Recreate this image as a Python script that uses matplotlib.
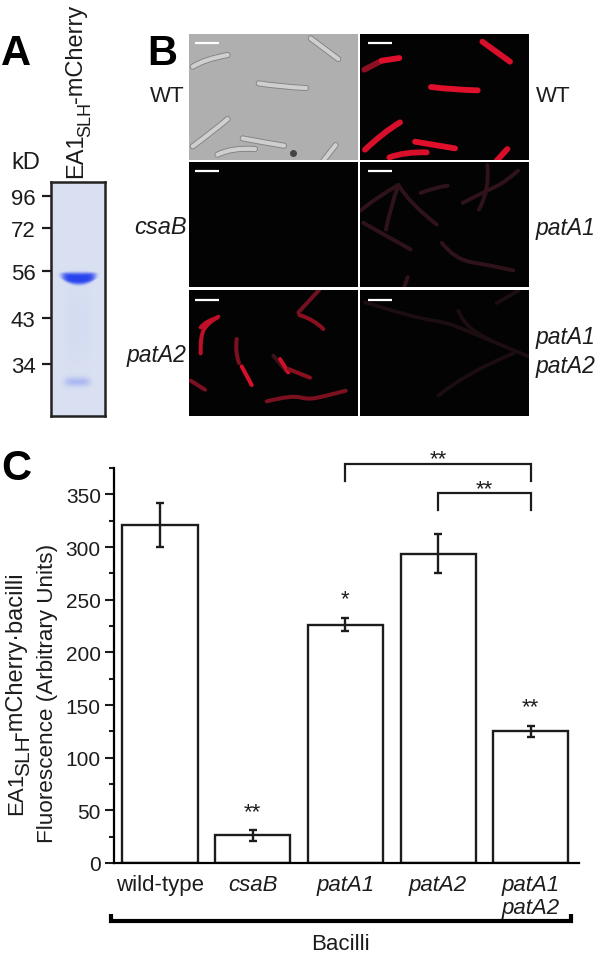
import numpy as np
import matplotlib
matplotlib.use("Agg")
import matplotlib.pyplot as plt
from matplotlib.patches import PathPatch
from matplotlib.path import Path
from matplotlib.ticker import MultipleLocator

plt.rcParams['font.family'] = ['Liberation Sans', 'DejaVu Sans']

W, H = 600, 954
INK = "#1c1c1c"

# panel C
strains = ["wild-type", "csaB", "patA1", "patA2", "patA1\npatA2"]
means = [321, 26.5, 226, 293, 125.5]
err_low = [21, 6, 6, 18, 5.5]
err_high = [21, 4.5, 7, 19, 5]
stars = [None, "**", "*", None, "**"]

# panel A
kd_labels = ["96", "72", "56", "43", "34"]
kd_y = [197, 229, 272, 319, 365]

# panel B, cell outlines
wt_phase = [
    [(38, 143), (75, 120), (143, 108)],
    [(392, 58), (475, 120)],
    [(236, 193), (300, 203), (378, 207)],
    [(38, 382), (95, 340), (143, 300)],
    [(188, 358), (250, 370), (312, 380)],
    [(112, 407), (155, 385), (225, 390)],
    [(430, 425), (467, 378)],
]
wt_red = [
    ("#8c1024", [(553, 152), (605, 125)]),
    ("#e0102c", [(605, 125), (658, 117)]),
    ("#d80f2a", [(907, 68), (990, 128)]),
    ("#e0102c", [(753, 204), (820, 212), (893, 214)]),
    ("#d80f2a", [(555, 392), (610, 340), (660, 310)]),
    ("#e0102c", [(705, 368), (825, 388)]),
    ("#d80f2a", [(628, 415), (675, 398), (740, 400)]),
    ("#d80f2a", [(950, 425), (982, 390)]),
]
pata1_red = [
    [(542, 575), (590, 535), (655, 498)],
    [(655, 498), (630, 570), (618, 632)],
    [(655, 498), (690, 555), (770, 617)],
    [(722, 522), (765, 505), (803, 500)],
    [(848, 552), (920, 515), (975, 490), (1014, 455)],
    [(922, 438), (930, 510), (897, 572)],
    [(550, 612), (620, 652), (692, 692)],
    [(785, 672), (825, 722), (920, 738), (1000, 755)],
    [(672, 808), (683, 775)],
]
pata2_red = [
    ("#c01028", [(62, 1003), (60, 950), (85, 910), (115, 893)]),
    ("#c01028", [(62, 925), (80, 905), (110, 897)]),
    ("#701020", [(355, 880), (385, 848), (418, 812)]),
    ("#8a1020", [(358, 888), (400, 900), (430, 930)]),
    ("#7a1020", [(170, 960), (165, 1000), (177, 1032)]),
    ("#d80f2a", [(185, 1042), (215, 1098)]),
    ("#3a1218", [(280, 1010), (320, 1058)]),
    ("#d0102a", [(300, 1020), (325, 1060)]),
    ("#8a1020", [(325, 1050), (390, 1076)]),
    ("#7a1020", [(32, 1085), (75, 1112)]),
    ("#7a1020", [(260, 1147), (335, 1128), (385, 1142), (440, 1130), (497, 1115)]),
]
double_red = [
    [(555, 850), (700, 895), (800, 910), (860, 935), (1045, 1012)],
    [(835, 875), (855, 930), (935, 965)],
    [(775, 1130), (860, 1060), (1000, 1003)],
    [(950, 852), (1015, 815)],
]


def px_axes(x0, y0, x1, y1):
    return fig.add_axes([x0 / W, 1 - y1 / H, (x1 - x0) / W, (y1 - y0) / H])


def micro_panel(x0, y0, x1, y1, zx0, zy0, zx1, zy1, color="#030303"):
    a = px_axes(x0, y0, x1, y1)
    a.set_facecolor(color)
    a.set_xlim(zx0, zx1)
    a.set_ylim(zy1, zy0)
    a.set_xticks([])
    a.set_yticks([])
    for s in a.spines.values():
        s.set_visible(False)
    return a


def cell(a, pts, color, lw):
    # bend through the read points, a straight cell stays straight
    verts = [pts[0]]
    codes = [Path.MOVETO]
    for i in range(1, len(pts) - 1):
        verts.append(pts[i])
        codes.append(Path.CURVE3)
        if i < len(pts) - 2:
            verts.append(((pts[i][0] + pts[i + 1][0]) / 2, (pts[i][1] + pts[i + 1][1]) / 2))
        else:
            verts.append(pts[-1])
        codes.append(Path.CURVE3)
    if len(pts) == 2:
        verts.append(pts[1])
        codes.append(Path.LINETO)
    a.add_patch(PathPatch(Path(verts, codes), facecolor="none", edgecolor=color, lw=lw,
                          capstyle="round", joinstyle="round"))


def scale_bar(a, x0, x1, y):
    a.plot([x0, x1], [y, y], color="white", lw=1.6, solid_capstyle="butt")


fig = plt.figure(figsize=(W / 100, H / 100), dpi=100)

# A: gel
gel = px_axes(51, 183, 104.5, 417)
yy, xx = np.mgrid[183:417:468j, 51:104.5:107j]
bottom = 285.5 - 5 * ((xx - 78.5) / 16.5) ** 2
mid = (273.5 + bottom) / 2
half = np.maximum((bottom - 273.5) / 2, 1)
band1 = np.exp(-((xx - 78.5) / 17) ** 6) * np.exp(-(np.abs(yy - mid) / half) ** 4)
band2 = 0.25 * np.exp(-((xx - 77) / 13) ** 4) * np.exp(-((yy - 383) / 4.5) ** 2)
smear = 0.03 * np.exp(-((xx - 77) / 14) ** 4) * np.exp(-((yy - 325) / 45) ** 2)
alpha = np.clip(band1 + band2 + smear, 0, 1)[..., None]
bg = np.array([218, 225, 242]) / 255
blue = np.array([40, 68, 238]) / 255
gel.imshow(bg + alpha * (blue - bg), extent=[51, 104.5, 417, 183], aspect="auto")
gel.set_xticks([])
gel.set_yticks(kd_y)
gel.set_yticklabels(kd_labels, fontsize=16, color=INK)
gel.tick_params(axis="y", length=6.5, width=1.6, color=INK, pad=4.5)
for s in gel.spines.values():
    s.set_linewidth(1.8)
    s.set_color("#222222")

# B: micrographs, limits are in the crop coordinates the cells were read in
p1 = micro_panel(188.7, 34.7, 358, 160.7, 26, 44, 534, 422, color="#afafaf")
for pts in wt_phase:
    cell(p1, pts, "#828282", 4.3)
    cell(p1, pts, "#cfcfcf", 3.0)
p1.plot([340], [402], "o", color="#444444", ms=4)
scale_bar(p1, 44, 118, 72)

p2 = micro_panel(360, 34.7, 528.7, 160.7, 540, 44, 1046, 422)
for c, pts in wt_red:
    cell(p2, pts, c, 4.2)
scale_bar(p2, 563, 637, 72)

p3 = micro_panel(188.7, 162.7, 358, 288, 26, 428, 534, 805)
scale_bar(p3, 44, 118, 455)

p4 = micro_panel(360, 162.7, 528.7, 288, 540, 428, 1046, 805)
for pts in pata1_red:
    cell(p4, pts, "#30131a", 2.8)
scale_bar(p4, 563, 637, 455)

p5 = micro_panel(188.7, 290.7, 358, 416.7, 26, 812, 534, 1190)
for c, pts in pata2_red:
    cell(p5, pts, c, 2.9)
scale_bar(p5, 44, 118, 844)

p6 = micro_panel(360, 290.7, 528.7, 416.7, 540, 812, 1046, 1190)
for pts in double_red:
    cell(p6, pts, "#1b0d10", 2.7)
scale_bar(p6, 563, 637, 844)

# C: bars
ax = px_axes(114, 469, 579, 864)
x = np.arange(len(strains))
ax.bar(x, means, width=0.81, facecolor="white", edgecolor=INK, linewidth=1.7, zorder=2)
ax.errorbar(x, means, yerr=[err_low, err_high], fmt="none", ecolor=INK,
            elinewidth=1.7, capsize=3, capthick=1.7, zorder=3)
ax.set_xlim(-0.496, 4.52)
ax.set_ylim(0, 375)
ax.spines["top"].set_visible(False)
ax.spines["right"].set_visible(False)
ax.spines["left"].set_linewidth(1.6)
ax.spines["bottom"].set_linewidth(1.6)
ax.yaxis.set_major_locator(MultipleLocator(50))
ax.yaxis.set_minor_locator(MultipleLocator(25))
ax.tick_params(axis="y", which="major", length=6.5, width=1.5, labelsize=15, pad=3, colors=INK)
ax.tick_params(axis="y", which="minor", length=3.5, width=1.5, colors=INK)
ax.set_xticks(x)
ax.set_xticklabels(strains, fontsize=16, color=INK, linespacing=1.1)
ax.tick_params(axis="x", length=0, pad=8)
for i, lab in enumerate(ax.get_xticklabels()):
    if i > 0:
        lab.set_fontstyle("italic")

for i, s in enumerate(stars):
    if s:
        ax.text(i, means[i] + err_high[i] + 18, s, ha="center", va="center",
                fontsize=16, color=INK, clip_on=False)

# significance brackets
ax.plot([2, 2, 4, 4], [363, 379, 379, 363], color=INK, lw=1.6, clip_on=False, solid_joinstyle="miter")
ax.plot([3, 3, 4, 4], [335, 351, 351, 335], color=INK, lw=1.6, clip_on=False, solid_joinstyle="miter")
ax.text(3, 384, "**", ha="center", va="center", fontsize=16, color=INK, clip_on=False)
ax.text(3.5, 355.5, "**", ha="center", va="center", fontsize=16, color=INK, clip_on=False)

# everything placed by eye goes on a full figure overlay in pixels
ov = fig.add_axes([0, 0, 1, 1], facecolor="none", zorder=10)
ov.set_xlim(0, W)
ov.set_ylim(H, 0)
ov.axis("off")

ov.plot([111, 111, 570.5, 570.5], [915, 922, 922, 915], color="black", lw=3,
        solid_joinstyle="miter", solid_capstyle="butt")
ov.text(340, 945, "Bacilli", ha="center", va="center", fontsize=16, color=INK)

for lab, lx, ly in [("A", 1, 65), ("B", 147, 65), ("C", 1, 480)]:
    ov.text(lx, ly, lab, fontsize=30, fontweight="bold", color="black", ha="left", va="baseline")

ov.text(26, 163, "kD", fontsize=17, color=INK, ha="center", va="center")
ov.text(87, 178, "EA1", fontsize=17, color=INK, rotation=90, ha="left", va="bottom", rotation_mode="anchor")
ov.text(94, 137, "SLH", fontsize=13, color=INK, rotation=90, ha="left", va="bottom", rotation_mode="anchor")
ov.text(87, 103, "-mCherry", fontsize=17, color=INK, rotation=90, ha="left", va="bottom", rotation_mode="anchor")

ov.text(185, 97, "WT", fontsize=16, color=INK, ha="right", va="center")
ov.text(187, 228, "csaB", fontsize=17, style="italic", color=INK, ha="right", va="center")
ov.text(186, 356, "patA2", fontsize=16.5, style="italic", color=INK, ha="right", va="center")
ov.text(536, 97, "WT", fontsize=16, color=INK, ha="left", va="center")
ov.text(536, 229, "patA1", fontsize=16.5, style="italic", color=INK, ha="left", va="center")
ov.text(536, 338, "patA1", fontsize=16.5, style="italic", color=INK, ha="left", va="center")
ov.text(536, 367, "patA2", fontsize=16.5, style="italic", color=INK, ha="left", va="center")

ov.text(27, 815, "EA1", fontsize=16, color=INK, rotation=90, ha="left", va="bottom", rotation_mode="anchor")
ov.text(33, 776, "SLH", fontsize=15, color=INK, rotation=90, ha="left", va="bottom", rotation_mode="anchor")
ov.text(27, 738, "-mCherry·bacilli", fontsize=17, color=INK, rotation=90, ha="left", va="bottom", rotation_mode="anchor")
ov.text(58, 843, "Fluorescence (Arbitrary Units)", fontsize=16.2, color=INK, rotation=90,
        ha="left", va="bottom", rotation_mode="anchor")

fig.savefig("out.png", dpi=100)
